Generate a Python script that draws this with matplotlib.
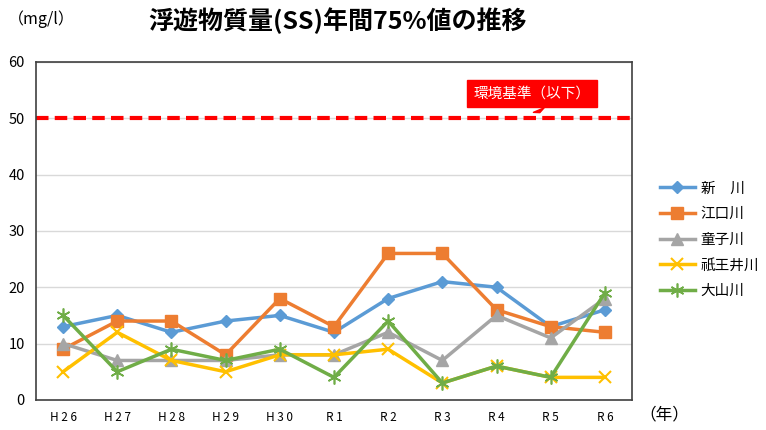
import matplotlib.pyplot as plt

plt.rcParams['font.family'] = ['Noto Sans CJK JP', 'DejaVu Sans']

# データ
years = ['H26', 'H27', 'H28', 'H29', 'H30', 'R1', 'R2', 'R3', 'R4', 'R5', 'R6']
shinkawa = [13, 15, 12, 14, 15, 12, 18, 21, 20, 13, 16]
eguchi = [9, 14, 14, 8, 18, 13, 26, 26, 16, 13, 12]
doji = [10, 7, 7, 7, 8, 8, 12, 7, 15, 11, 18]
gionoi = [5, 12, 7, 5, 8, 8, 9, 3, 6, 4, 4]
oyama = [15, 5, 9, 7, 9, 4, 14, 3, 6, 4, 19]
standard = 50

fig = plt.figure(figsize=(7.66, 4.30), dpi=100)
ax = fig.add_axes([0.047, 0.07, 0.778, 0.786])

x = range(len(years))
ax.plot(x, shinkawa, color='#5B9BD5', lw=2.5, marker='D', ms=6, label='新　川')
ax.plot(x, eguchi, color='#ED7D31', lw=2.5, marker='s', ms=8, label='江口川')
ax.plot(x, doji, color='#A5A5A5', lw=2.5, marker='^', ms=8, label='童子川')
ax.plot(x, gionoi, color='#FFC000', lw=2.5, marker='x', ms=8, mew=1.5, label='祇王井川')
ax.plot(x, oyama, color='#70AD47', lw=2.5, marker=(6, 2, 0), ms=10, mew=1.2, label='大山川')

# 環境基準線
ax.axhline(standard, color='#FF0000', lw=3, ls=(0, (3, 1.5)))
ax.annotate('環境基準（以下）', xy=(8.8, 51.0), xytext=(8.65, 54.4),
            ha='center', va='center', color='white', fontsize=10.5,
            bbox=dict(boxstyle='square,pad=0.45', fc='#FF0000', ec='#FF0000'),
            arrowprops=dict(arrowstyle='wedge,tail_width=0.8,shrink_factor=0.5',
                            fc='#FF0000', ec='#FF0000'))

ax.set_xlim(-0.5, len(years) - 0.5)
ax.set_ylim(0, 60)
ax.set_yticks(range(0, 61, 10))
ax.set_xticks(list(x))
ax.set_xticklabels([' '.join(y) for y in years], fontsize=8.5)
ax.tick_params(axis='both', length=0, pad=8)
ax.tick_params(axis='y', labelsize=10.5)
ax.grid(axis='y', color='#D9D9D9', lw=1)
ax.set_axisbelow(True)
for s in ax.spines.values():
    s.set_color('#404040')
    s.set_linewidth(1.2)

fig.text(0.01, 0.955, '（mg/l）', fontsize=11.5, va='center')
fig.text(0.44, 0.952, '浮遊物質量(SS)年間75%値の推移', fontsize=18,
         fontweight='bold', ha='center', va='center')
fig.text(0.835, 0.035, '（年）', fontsize=12, va='center')

ax.legend(loc='upper left', bbox_to_anchor=(1.025, 0.685), frameon=False,
          fontsize=10.5, handlelength=2.4, handletextpad=0.4, labelspacing=0.8)

plt.savefig('out.png')
